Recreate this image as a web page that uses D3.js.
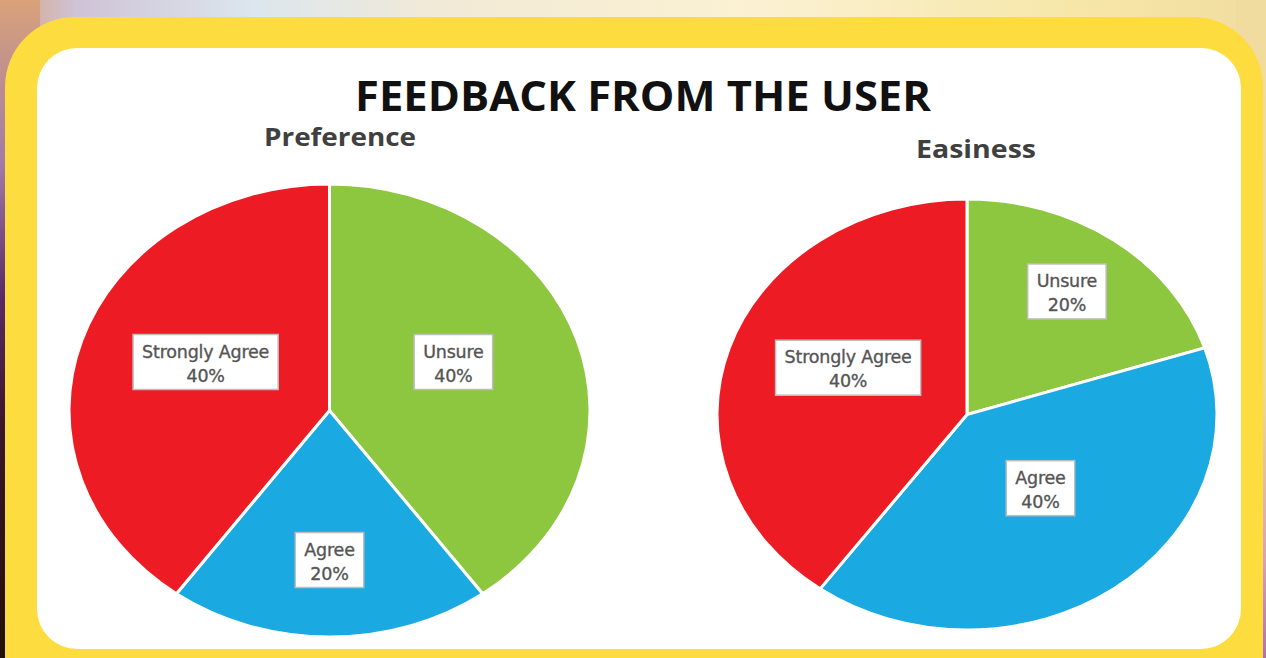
<!DOCTYPE html>
<html>
<head>
<meta charset="utf-8">
<script src="https://cdn.jsdelivr.net/npm/d3@7"></script>
<style>
  html, body { margin: 0; padding: 0; background: #fff; overflow: hidden; }
  svg { display: block; }
</style>
</head>
<body>
<svg id="chart" width="1266" height="658"></svg>
<script>
// ---- data ----
const title = "FEEDBACK FROM THE USER";
const categories = ["Unsure", "Agree", "Strongly Agree"];
const colors = ["#8DC63F", "#1BA9E1", "#ED1C24"];
const chartTitles = ["Preference", "Easiness"];
const preferenceValues = [40, 20, 40];
const easinessValues = [20, 40, 40];

// ---- layout ----
const W = 1266, H = 658;
const svg = d3.select("#chart");
const defs = svg.append("defs");

// background gradients
const gTop = defs.append("linearGradient").attr("id", "bgTop").attr("x1", 0).attr("x2", 1).attr("y1", 0).attr("y2", 0);
[["0%", "#d9a27a"], ["6%", "#cfc3d6"], ["20%", "#dce6ee"], ["35%", "#f2ead6"], ["60%", "#fbf1d2"], ["85%", "#f6e7a8"], ["100%", "#f1dca0"]]
  .forEach(([o, c]) => gTop.append("stop").attr("offset", o).attr("stop-color", c));
const gLeft = defs.append("linearGradient").attr("id", "bgLeft").attr("x1", 0).attr("x2", 0).attr("y1", 0).attr("y2", 1);
[["0%", "#d9a27a"], ["25%", "#a07aa8"], ["45%", "#5a2a6a"], ["65%", "#3a1628"], ["100%", "#241008"]]
  .forEach(([o, c]) => gLeft.append("stop").attr("offset", o).attr("stop-color", c));
const gRight = defs.append("linearGradient").attr("id", "bgRight").attr("x1", 0).attr("x2", 0).attr("y1", 0).attr("y2", 1);
[["0%", "#f1dca0"], ["60%", "#f0d890"], ["85%", "#d9a0c0"], ["100%", "#b070b0"]]
  .forEach(([o, c]) => gRight.append("stop").attr("offset", o).attr("stop-color", c));

svg.append("rect").attr("width", W).attr("height", H).attr("fill", "url(#bgTop)");
svg.append("rect").attr("x", 0).attr("y", 0).attr("width", 40).attr("height", H).attr("fill", "url(#bgLeft)");
svg.append("rect").attr("x", W - 30).attr("y", 0).attr("width", 30).attr("height", H).attr("fill", "url(#bgRight)");

// yellow frame
svg.append("rect").attr("x", 5).attr("y", 17).attr("width", 1258).attr("height", 720)
  .attr("rx", 70).attr("fill", "#FCDC3E");
// white panel
svg.append("rect").attr("x", 37).attr("y", 48).attr("width", 1204).attr("height", 601)
  .attr("rx", 40).attr("fill", "#ffffff");

// title
svg.append("text").attr("x", 643).attr("y", 111).attr("text-anchor", "middle")
  .attr("font-family", "'Open Sans', sans-serif").attr("font-weight", 700)
  .attr("font-size", 42).attr("fill", "#111")
  .attr("textLength", 576).attr("lengthAdjust", "spacingAndGlyphs")
  .text(title);

const pies = [
  { name: chartTitles[0], values: preferenceValues, cx: 329.5, cy: 410.5, rx: 260.5, ry: 226.5, tx: 340, ty: 146, tw: 152 },
  { name: chartTitles[1], values: easinessValues, cx: 967, cy: 414.5, rx: 250, ry: 215.5, tx: 976, ty: 158, tw: 120 }
];

const R = 100;
const pieGen = d3.pie().sort(null).value(d => d.value);
const arcGen = d3.arc().innerRadius(0).outerRadius(R);

pies.forEach(p => {
  svg.append("text").attr("x", p.tx).attr("y", p.ty).attr("text-anchor", "middle")
    .attr("font-family", "'Open Sans', sans-serif").attr("font-weight", 700)
    .attr("font-size", 25).attr("fill", "#404040")
    .attr("textLength", p.tw).attr("lengthAdjust", "spacingAndGlyphs")
    .text(p.name);

  const data = categories.map((c, i) => ({ cat: c, value: p.values[i], color: colors[i] }));
  const arcs = pieGen(data);
  const sx = p.rx / R, sy = p.ry / R;

  const g = svg.append("g").attr("transform", `translate(${p.cx},${p.cy}) scale(${sx},${sy})`);
  g.selectAll("path").data(arcs).join("path")
    .attr("d", arcGen)
    .attr("fill", d => d.data.color)
    .attr("stroke", "#ffffff")
    .attr("stroke-width", 3)
    .attr("vector-effect", "non-scaling-stroke");

  // labels
  const total = d3.sum(p.values);
  arcs.forEach(a => {
    const mid = (a.startAngle + a.endAngle) / 2;
    const share = a.data.value / total;
    const big = share >= 0.3;
    const f = big ? 0.5 : 0.68;
    const lx = p.cx + Math.sin(mid) * f * p.rx;
    const ly = p.cy - Math.cos(mid) * f * p.ry - (big ? 14 : 5);
    const lg = svg.append("g").attr("transform", `translate(${lx},${ly})`);
    const box = lg.append("rect").attr("fill", "#fff").attr("stroke", "#bdbdbd").attr("stroke-width", 1.5);
    const textAttrs = sel => sel.attr("text-anchor", "middle")
      .attr("font-family", "'DejaVu Sans', Verdana, sans-serif").attr("font-size", 17.5)
      .attr("fill", "#555").attr("stroke", "#555").attr("stroke-width", 0.35)
      .attr("letter-spacing", -0.2);
    const t1 = lg.append("text").call(textAttrs).attr("y", -4).text(a.data.cat);
    const t2 = lg.append("text").call(textAttrs).attr("y", 20).text(Math.round(share * 100) + "%");
    const w = Math.max(t1.node().getComputedTextLength(), t2.node().getComputedTextLength()) + 18;
    box.attr("x", -w / 2).attr("y", -27).attr("width", w).attr("height", 55);
  });
});
</script>
</body>
</html>
